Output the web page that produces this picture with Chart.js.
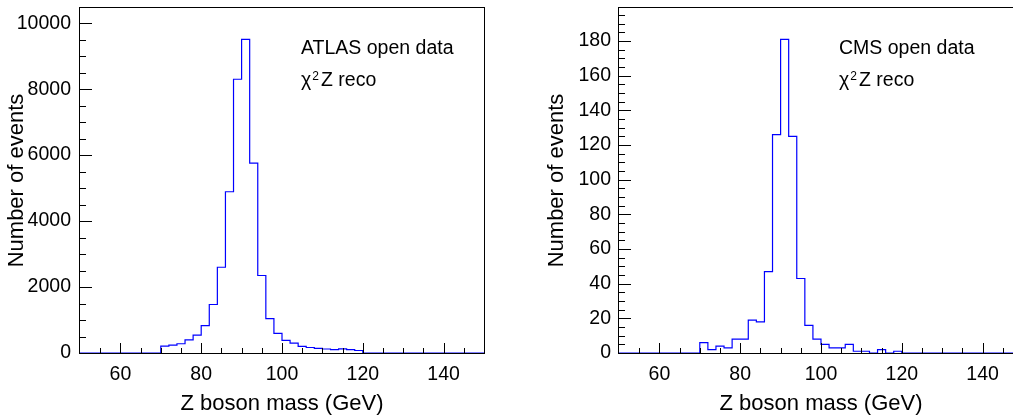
<!DOCTYPE html>
<html><head><meta charset="utf-8">
<script src="https://cdn.jsdelivr.net/npm/chart.js@4.4.0/dist/chart.umd.min.js"></script>
<style>
html,body{margin:0;padding:0;overflow:hidden;background:#fff;width:1013px;height:418px;}
#wl{position:absolute;left:0;top:0;width:506px;height:418px;}
#wr{position:absolute;left:530px;top:0;width:515px;height:418px;}
</style></head><body>
<div id="wl"><canvas id="cl"></canvas></div>
<div id="wr"><canvas id="cr"></canvas></div>
<script>
// ---- data ----
const massBinEdges = [50,52,54,56,58,60,62,64,66,68,70,72,74,76,78,80,82,84,86,88,90,92,94,96,98,100,102,104,106,108,110,112,114,116,118,120,122,124,126,128,130,132,134,136,138,140,142,144,146,148,150];
const atlasCounts = [0,0,0,0,0,0,0,0,0,0,
  210,240,280,400,545,830,1470,2600,4890,8300,9510,5760,2350,1045,595,384,298,200,167,141,121,105,125,105,76,
  0,0,0,0,0,0,0,0,0,0,0,0,0,0,0];
const cmsCounts = [0,0,0,0,0,0,0,0,0,0,
  6,2,4,3,8,8,19,18,47,126,181,125,43,16,8,5,3,3,5,1,1,0,2,0,1,
  0,0,0,0,0,0,0,0,0,0,0,0,0,0,0];
const xTickValues = [60,80,100,120,140];
const atlasYTicks = [0,2000,4000,6000,8000,10000];
const cmsYTicks = [0,20,40,60,80,100,120,140,160,180];
const atlasYMax = 10461;
const cmsYMax = 199.1;
const xTitle = 'Z boson mass (GeV)';
const yTitle = 'Number of events';
const atlasLabel = 'ATLAS open data';
const cmsLabel = 'CMS open data';

const FAM = "'Liberation Sans', Arial, Helvetica, sans-serif";

const frameTicks = {
  id: 'frameTicks',
  afterDatasetsDraw(chart, args, o) {
    const {ctx, chartArea: {left, right, top, bottom}, scales: {x, y}} = chart;
    ctx.save();
    ctx.strokeStyle = '#000';
    ctx.lineWidth = 1;
    ctx.beginPath();
    for (let v = o.xMinorStart; v <= o.xMinorEnd + 1e-9; v += o.xMinorStep) {
      const px = Math.round(x.getPixelForValue(v)) + 0.5;
      const major = xTickValues.includes(v);
      ctx.moveTo(px, bottom);
      ctx.lineTo(px, bottom - (major ? 10 : 5));
    }
    for (let v = 0; v <= y.max + 1e-9; v += o.yMinorStep) {
      const py = Math.round(y.getPixelForValue(v)) + 0.5;
      const major = o.yMajor.includes(v);
      ctx.moveTo(left, py);
      ctx.lineTo(left + (major ? 12 : 6), py);
    }
    ctx.stroke();
    ctx.strokeRect(left - 0.5, top - 0.5, right - left + 1, bottom - top + 1);
    ctx.restore();
  }
};

const notes = {
  id: 'notes',
  afterDraw(chart, args, o) {
    const ctx = chart.ctx;
    ctx.save();
    ctx.fillStyle = '#000';
    ctx.textBaseline = 'alphabetic';
    ctx.textAlign = 'left';
    ctx.font = `19.5px ${FAM}`;
    ctx.fillText(o.label, o.x, o.y1);
    ctx.fillText('\u03C7', o.x, o.y2);
    const w = ctx.measureText('\u03C7').width;
    ctx.font = `12px ${FAM}`;
    ctx.fillText('2', o.x + w + 1, o.y2 - 6);
    ctx.font = `19.5px ${FAM}`;
    ctx.fillText('Z reco', o.x + 20, o.y2);
    ctx.restore();
  }
};

function makeChart(id, counts, yTicks, yMax, cfg) {
  const pts = massBinEdges.map((e, i) => ({x: e, y: counts[Math.min(i, counts.length - 1)]}));
  return new Chart(document.getElementById(id), {
    type: 'line',
    data: {datasets: [{
      data: pts, borderColor: '#0000ff', borderWidth: 1.2, stepped: 'before',
      pointRadius: 0, fill: false, tension: 0, clip: false
    }]},
    options: {
      responsive: true, maintainAspectRatio: false, animation: false,
      layout: {padding: {left: 0, right: cfg.padRight, top: 8, bottom: 0}},
      plugins: {
        legend: {display: false}, tooltip: {enabled: false},
        frameTicks: {xMinorStart: 55, xMinorEnd: 145, xMinorStep: 5, yMinorStep: cfg.yMinorStep, yMajor: yTicks},
        notes: {label: cfg.label, x: cfg.noteX, y1: 54, y2: 86}
      },
      scales: {
        x: {
          type: 'linear', min: 50, max: 150,
          afterBuildTicks: s => { s.ticks = xTickValues.map(v => ({value: v})); },
          afterFit: s => { s.height = 65; s.paddingLeft = 0; s.paddingRight = 0; },
          grid: {display: false, drawTicks: false}, border: {display: false},
          ticks: {color: '#000', font: {family: FAM, size: 19.5}, padding: 10, maxRotation: 0, autoSkip: false,
                  callback: v => String(v)},
          title: {display: true, text: xTitle, color: '#000', font: {family: FAM, size: 22}, padding: {top: 0, bottom: 0.5}}
        },
        y: {
          type: 'linear', min: 0, max: yMax,
          afterBuildTicks: s => { s.ticks = yTicks.map(v => ({value: v})); },
          afterFit: s => { s.width = cfg.yWidth; s.paddingTop = 0; s.paddingBottom = 0; },
          grid: {display: false, drawTicks: false}, border: {display: false},
          ticks: {color: '#000', font: {family: FAM, size: 19.5}, padding: cfg.yLabelPad, autoSkip: false,
                  callback: v => String(v)},
          title: {display: true, text: yTitle, color: '#000', font: {family: FAM, size: 22}, padding: {top: cfg.yTitlePad, bottom: 0}}
        }
      }
    },
    plugins: [frameTicks, notes]
  });
}

makeChart('cl', atlasCounts, atlasYTicks, atlasYMax,
  {padRight: 22, yWidth: 80, yLabelPad: 9, yTitlePad: 3.5, yMinorStep: 500, label: atlasLabel, noteX: 301});
makeChart('cr', cmsCounts, cmsYTicks, cmsYMax,
  {padRight: 22, yWidth: 89, yLabelPad: 8, yTitlePad: 13.5, yMinorStep: 5, label: cmsLabel, noteX: 309});
</script>
</body></html>
